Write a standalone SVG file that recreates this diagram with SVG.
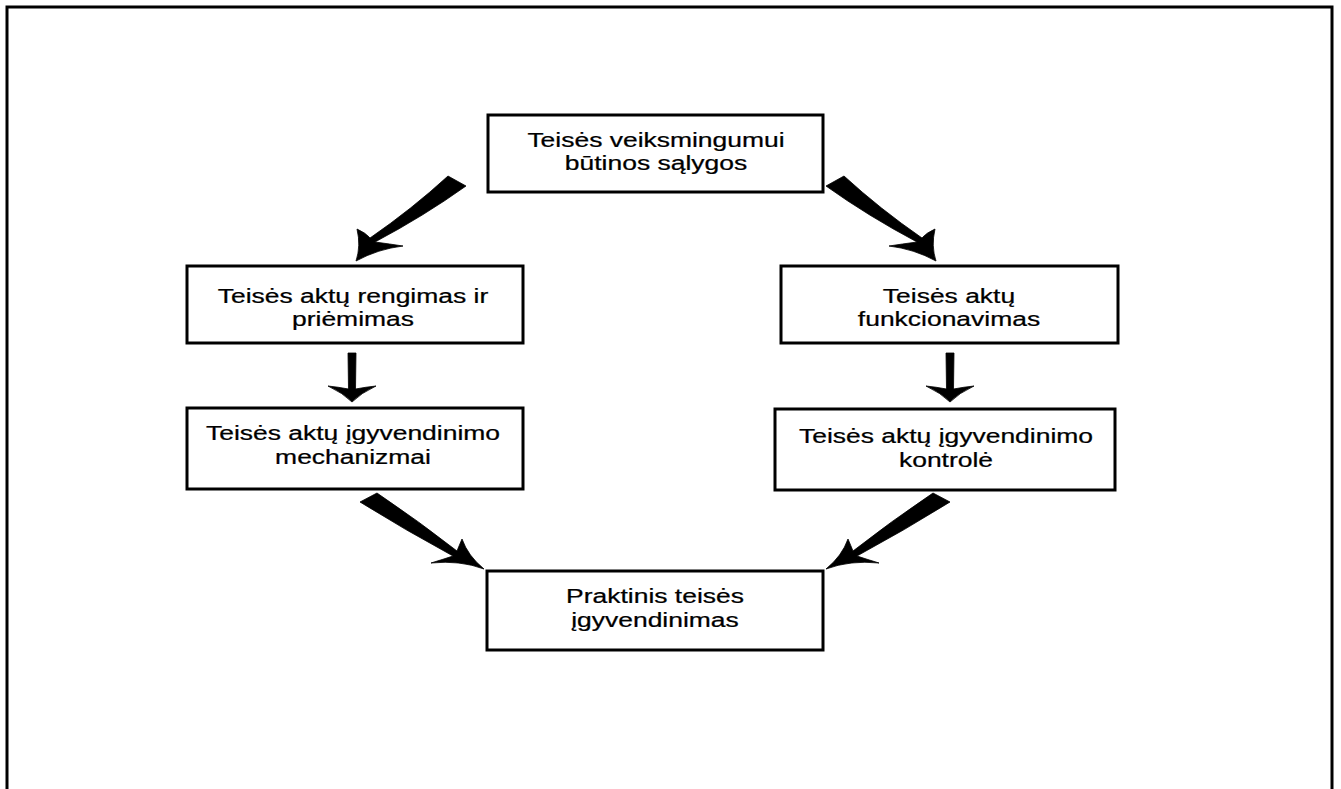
<svg xmlns="http://www.w3.org/2000/svg" width="1341" height="789" viewBox="0 0 1341 789">
<style>
.box{fill:#fff;stroke:#000;stroke-width:3}
.t{font-family:"Liberation Sans",Arial,sans-serif;font-size:21px;fill:#000;stroke:#000;stroke-width:0.25;text-anchor:middle}
.arr{fill:#000;stroke:#000;stroke-width:0.8;stroke-linejoin:round}
</style>
<rect x="0" y="0" width="1341" height="789" fill="#fff"/>
<path d="M7,795 V7 H1332 V795" fill="none" stroke="#000" stroke-width="3"/>
<g id="connectors">
<path class="arr" d="M448,176 Q412,209 370,238 Q366,233 357,229 Q361,246 356,261 Q378,249 403,246 Q390,244 375,242 Q424,216 466,186 Z"/>
<path class="arr" d="M844,176 Q880,209 922,238 Q926,233 935,229 Q931,246 936,261 Q914,249 889,246 Q902,244 917,242 Q868,216 826,186 Z"/>
<path class="arr" d="M377,493 Q420,522 457,551 Q459,546 462,539 Q468,556 484,569 Q460,560 431,563 Q444,559 453,556 Q405,530 360,502 Z"/>
<path class="arr" d="M933,493 Q890,522 853,551 Q851,546 848,539 Q842,556 826,569 Q850,560 879,563 Q866,559 857,556 Q905,530 950,502 Z"/>
<path class="arr" d="M348,353 L356,353 L355.5,389 Q366,387 376,386 Q361,393 352,402 Q343,393 328,386 Q338,387 348.5,389 Z"/>
<path class="arr" d="M946,353 L954,353 L953.5,389 Q964,387 974,386 Q959,393 950,402 Q941,393 926,386 Q936,387 946.5,389 Z"/>
</g>
<g id="n-top">
<rect class="box" x="488" y="115" width="335" height="77"/>
<text class="t" transform="translate(656,147) scale(1.26,1)"><tspan x="0" y="0">Teisės veiksmingumui</tspan><tspan x="0" y="23">būtinos sąlygos</tspan></text>
</g>
<g id="n-l1">
<rect class="box" x="187" y="266" width="336" height="77"/>
<text class="t" transform="translate(353,303) scale(1.26,1)"><tspan x="0" y="0">Teisės aktų rengimas ir</tspan><tspan x="0" y="23">priėmimas</tspan></text>
</g>
<g id="n-r1">
<rect class="box" x="781" y="266" width="337" height="77"/>
<text class="t" transform="translate(949,303) scale(1.26,1)"><tspan x="0" y="0">Teisės aktų</tspan><tspan x="0" y="23">funkcionavimas</tspan></text>
</g>
<g id="n-l2">
<rect class="box" x="187" y="408" width="336" height="81"/>
<text class="t" transform="translate(353,440) scale(1.26,1)"><tspan x="0" y="0">Teisės aktų įgyvendinimo</tspan><tspan x="0" y="24">mechanizmai</tspan></text>
</g>
<g id="n-r2">
<rect class="box" x="775" y="409" width="340" height="81"/>
<text class="t" transform="translate(946,443) scale(1.26,1)"><tspan x="0" y="0">Teisės aktų įgyvendinimo</tspan><tspan x="0" y="24">kontrolė</tspan></text>
</g>
<g id="n-bottom">
<rect class="box" x="487" y="571" width="336" height="79"/>
<text class="t" transform="translate(655,603) scale(1.26,1)"><tspan x="0" y="0">Praktinis teisės</tspan><tspan x="0" y="24">įgyvendinimas</tspan></text>
</g>
</svg>
